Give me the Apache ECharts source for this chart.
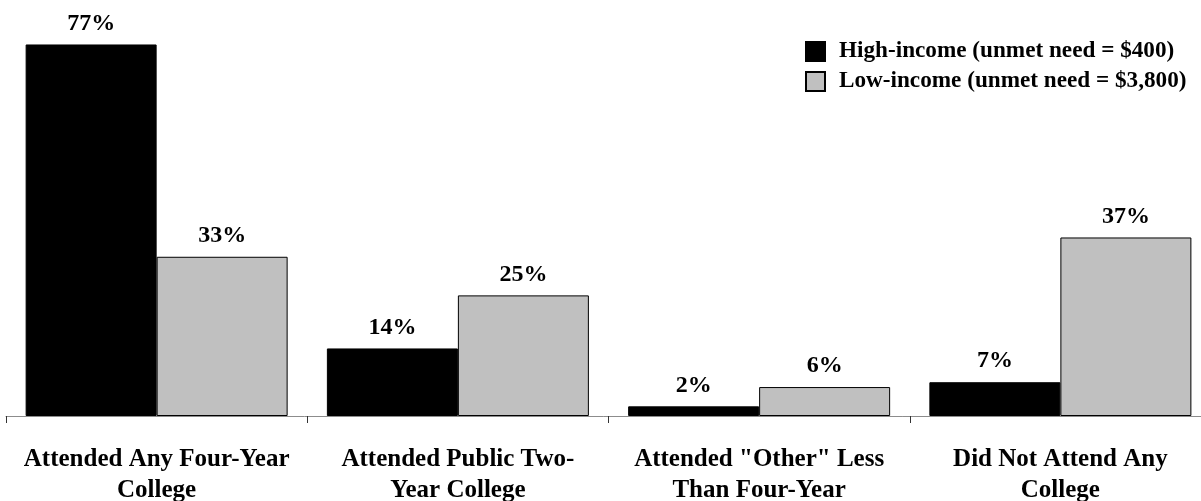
<!DOCTYPE html>
<html>
<head>
<meta charset="utf-8">
<script src="https://cdn.jsdelivr.net/npm/echarts@6/dist/echarts.min.js"></script>
<style>
html,body{margin:0;padding:0;background:#fff;}
#c{width:1201px;height:501px;}
</style>
</head>
<body>
<div id="c"></div>
<script>
const categories = [
  'Attended Any Four-Year\nCollege',
  'Attended Public Two-\nYear College',
  'Attended "Other" Less\nThan Four-Year',
  'Did Not Attend Any\nCollege'
];
const seriesNames = ['High-income (unmet need = $400)', 'Low-income (unmet need = $3,800)'];
const highIncome = [77, 14, 2, 7];
const lowIncome = [33, 25, 6, 37];

const FONT = '"Liberation Serif", "Times New Roman", serif';
const chart = echarts.init(document.getElementById('c'), null, {renderer: 'canvas'});

const labelCfg = {
  show: true,
  position: 'top',
  distance: 9,
  formatter: p => p.value + '%',
  fontFamily: FONT,
  fontWeight: 'bold',
  fontSize: 24,
  color: '#000'
};

chart.setOption({
  animation: false,
  backgroundColor: '#fff',
  grid: {left: 6, width: 1205, top: 30, bottom: 85, containLabel: false, outerBoundsMode: 'none'},
  legend: {
    orient: 'vertical',
    left: 800,
    top: 35,
    itemWidth: 19,
    itemHeight: 19,
    itemGap: 7,
    icon: 'rect',
    data: seriesNames,
    textStyle: {
      fontFamily: FONT,
      fontWeight: 'bold',
      fontSize: 23.2,
      color: '#000',
      padding: [0, 0, 0, 9]
    }
  },
  xAxis: {
    type: 'category',
    data: categories,
    axisLine: {show: true, lineStyle: {color: '#8c8c8c', width: 1}},
    axisTick: {show: true, length: 7, lineStyle: {color: '#333'}},
    axisLabel: {
      margin: 28,
      fontFamily: FONT,
      fontWeight: 'bold',
      fontSize: 25,
      lineHeight: 31,
      color: '#000',
      interval: 0
    }
  },
  yAxis: {
    type: 'value',
    min: 0,
    max: 80,
    show: false,
    splitLine: {show: false}
  },
  series: [
    {
      name: seriesNames[0],
      type: 'bar',
      data: highIncome,
      barWidth: 131,
      barGap: '0%',
      itemStyle: {color: '#000000', borderColor: '#000', borderWidth: 1},
      label: labelCfg
    },
    {
      name: seriesNames[1],
      type: 'bar',
      data: lowIncome,
      barWidth: 131,
      barGap: '0%',
      itemStyle: {color: '#c0c0c0', borderColor: '#000', borderWidth: 1},
      label: labelCfg
    }
  ]
});
</script>
</body>
</html>
